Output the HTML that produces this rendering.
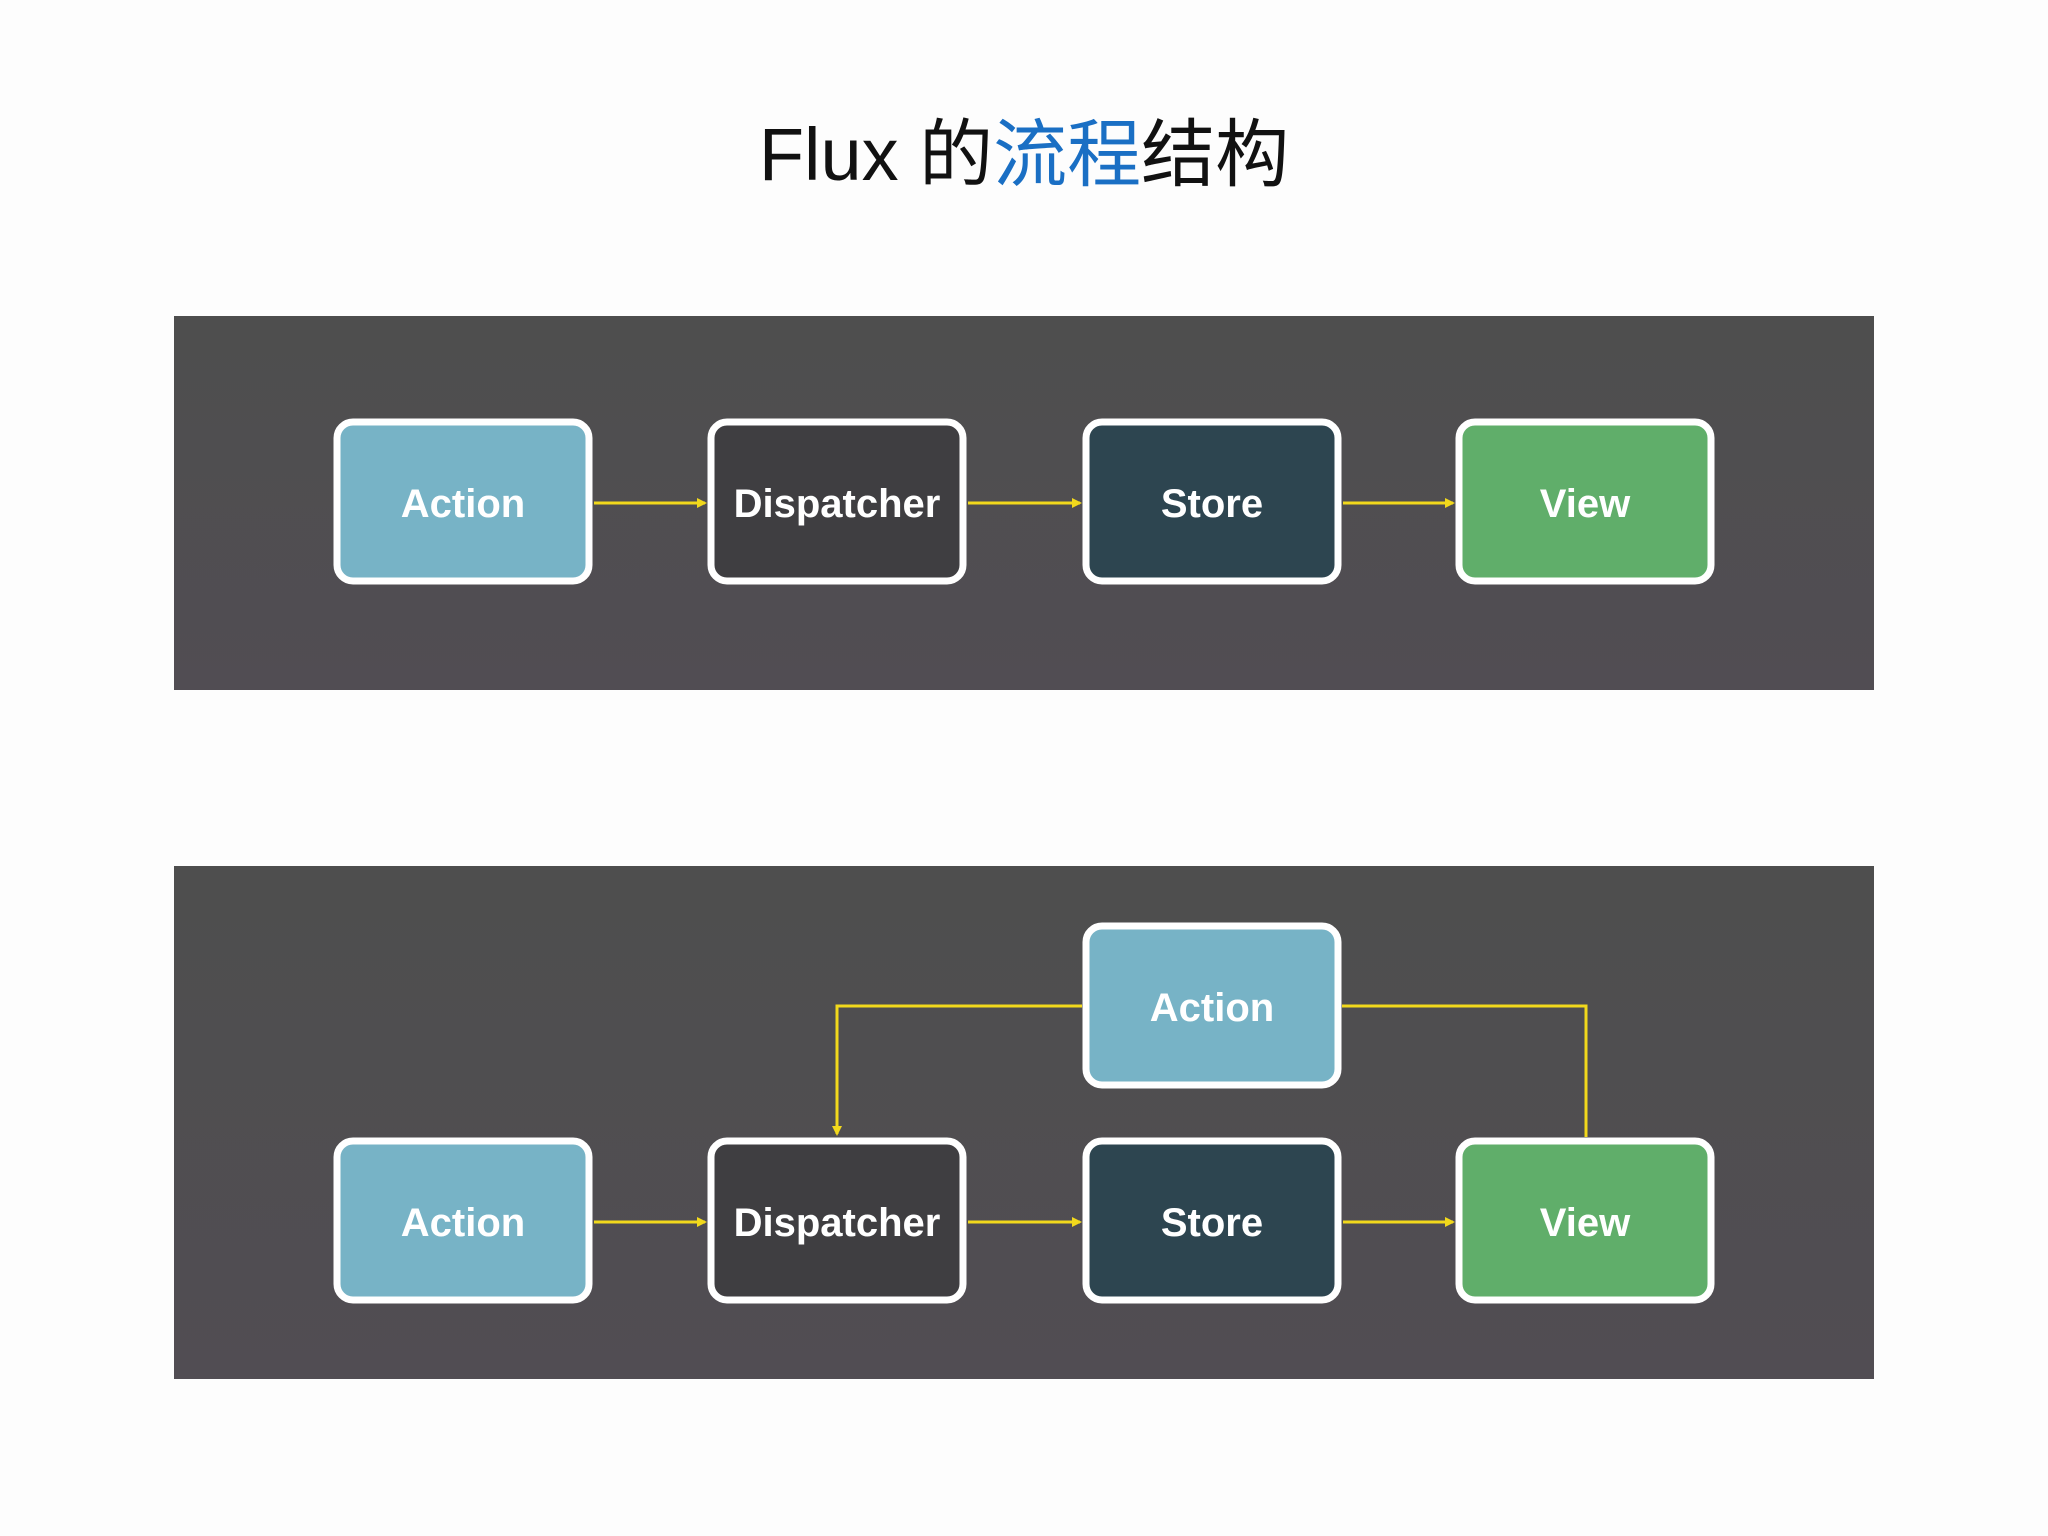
<!DOCTYPE html>
<html><head><meta charset="utf-8"><style>
html,body{margin:0;padding:0;background:#fdfdfd;}
body{width:2048px;height:1536px;position:relative;overflow:hidden;}
.t{position:absolute;left:0;width:2048px;top:105px;text-align:center;font-family:"Liberation Sans","Noto Sans CJK SC",sans-serif;font-size:74px;color:#111;line-height:100px;}
.t span{color:#1a6fc4;}
</style></head><body>
<div class="t">Flux 的<span>流程</span>结构</div>
<svg width="2048" height="1536" style="position:absolute;left:0;top:0">
<defs>
<linearGradient id="g" x1="0" y1="0" x2="0" y2="1"><stop offset="0" stop-color="#4e4e4e"/><stop offset="1" stop-color="#514d53"/></linearGradient>
<marker id="a" markerWidth="10" markerHeight="10" refX="8" refY="5" orient="auto" markerUnits="userSpaceOnUse"><path d="M0,0 L10,5 L0,10 z" fill="#f2d91c"/></marker>
</defs>
<rect x="174" y="316" width="1700" height="374" fill="url(#g)"/>
<rect x="174" y="866" width="1700" height="513" fill="url(#g)"/>
<g stroke="#ffffff" stroke-width="7">
<rect x="337" y="422" width="252" height="159" rx="16" fill="#77b3c6"/>
<rect x="711" y="422" width="252" height="159" rx="16" fill="#3f3e41"/>
<rect x="1086" y="422" width="252" height="159" rx="16" fill="#2d4550"/>
<rect x="1459" y="422" width="252" height="159" rx="16" fill="#60ae6a"/>
<rect x="337" y="1141" width="252" height="159" rx="16" fill="#77b3c6"/>
<rect x="711" y="1141" width="252" height="159" rx="16" fill="#3f3e41"/>
<rect x="1086" y="1141" width="252" height="159" rx="16" fill="#2d4550"/>
<rect x="1459" y="1141" width="252" height="159" rx="16" fill="#60ae6a"/>
<rect x="1086" y="926" width="252" height="159" rx="16" fill="#77b3c6"/>
</g>
<g stroke="#f2d91c" stroke-width="3" fill="none">
<line x1="594" y1="503" x2="705" y2="503" marker-end="url(#a)"/>
<line x1="968" y1="503" x2="1080" y2="503" marker-end="url(#a)"/>
<line x1="1343" y1="503" x2="1453" y2="503" marker-end="url(#a)"/>
<line x1="594" y1="1222" x2="705" y2="1222" marker-end="url(#a)"/>
<line x1="968" y1="1222" x2="1080" y2="1222" marker-end="url(#a)"/>
<line x1="1343" y1="1222" x2="1453" y2="1222" marker-end="url(#a)"/>
<polyline points="1082,1006 837,1006 837,1134" marker-end="url(#a)"/>
<polyline points="1342,1006 1586,1006 1586,1137"/>
</g>
<g font-family="'Liberation Sans',sans-serif" font-weight="bold" font-size="40" fill="#fff" text-anchor="middle">
<text x="463" y="517">Action</text>
<text x="837" y="517">Dispatcher</text>
<text x="1212" y="517">Store</text>
<text x="1585" y="517">View</text>
<text x="463" y="1236">Action</text>
<text x="837" y="1236">Dispatcher</text>
<text x="1212" y="1236">Store</text>
<text x="1585" y="1236">View</text>
<text x="1212" y="1021">Action</text>
</g>
</svg>
</body></html>
